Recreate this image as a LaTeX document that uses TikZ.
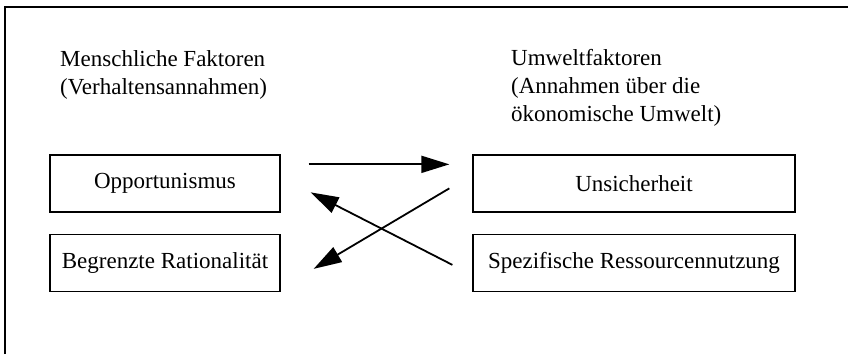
\documentclass[tikz,border=0pt]{standalone}
\usepackage{fontspec}
\setmainfont{Liberation Serif}
\usetikzlibrary{arrows.meta}

\begin{document}
\begin{tikzpicture}[x=1pt, y=1pt,
		every node/.style={font=\fontsize{23}{28}\selectfont},
		kasten/.style={draw, line width=1.3pt, minimum height=57pt, inner sep=0pt},
		pfeil/.style={line width=1.8pt, -{Triangle[length=28pt, width=17pt]}}]
			%%%%% START %%%%%
			
			\useasboundingbox (0, 0) rectangle (848, -354);
			
			\draw[line width=2pt] (5, -354) -- (5, -7) -- (848, -7);
			
			\node[anchor=north west, inner sep=0pt, align=left] (mensch) at (60, -50) {Menschliche Faktoren\\(Verhaltensannahmen)};
			\node[anchor=north west, inner sep=0pt, align=left] (umwelt) at (511, -49) {Umweltfaktoren\\(Annahmen über die\\ökonomische Umwelt)};
			
			\node[kasten, minimum width=230pt] (opp) at (165, -183.5) {Opportunismus};
			\node[kasten, minimum width=230pt] (begr) at (165, -263) {Begrenzte Rationalität};
			\node[kasten, minimum width=322pt] (uns) at (634, -183.5) {Unsicherheit};
			\node[kasten, minimum width=322pt] (spez) at (634, -263) {Spezifische Ressourcennutzung};
			
			\draw[pfeil] ([xshift=28pt, yshift=-10pt]opp.north east) -- ([xshift=-23pt, yshift=-10pt]uns.north west);
			\draw[pfeil] ([xshift=-20pt, yshift=-31pt]spez.north west) -- ([xshift=30pt, yshift=-38pt]opp.north east);
			\draw[pfeil] ([xshift=-23pt, yshift=-34pt]uns.north west) -- ([xshift=33pt, yshift=-35pt]begr.north east);
			
			%%%%% END %%%%%
		\end{tikzpicture}
\end{document}
